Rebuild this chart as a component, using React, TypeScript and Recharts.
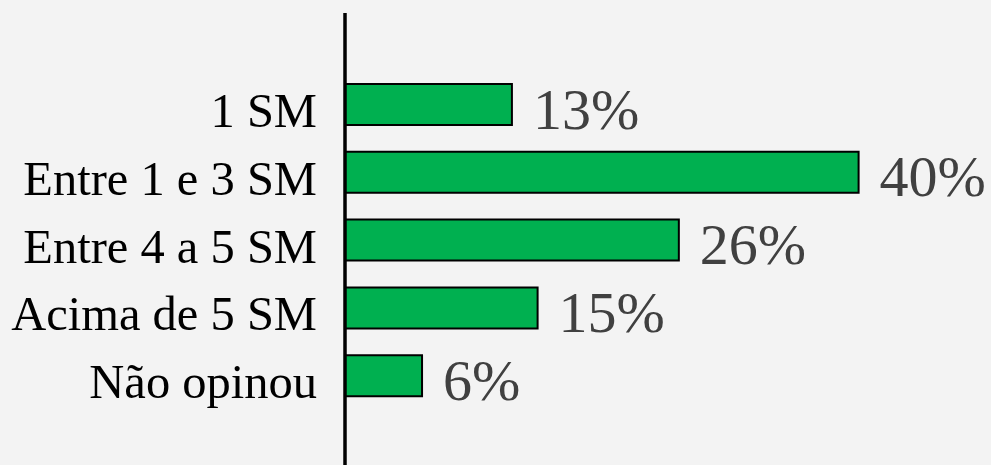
import { BarChart, Bar, XAxis, YAxis, LabelList } from 'recharts';

// Faixa de renda (SM = salário mínimo)
const categories = ['1 SM', 'Entre 1 e 3 SM', 'Entre 4 a 5 SM', 'Acima de 5 SM', 'Não opinou'];
const percents = [13, 40, 26, 15, 6];

const data = categories.map((name, i) => ({ name, value: percents[i] }));

const FONT = '"Liberation Serif", "Times New Roman", serif';

// eslint-disable-next-line @typescript-eslint/no-explicit-any
const CategoryTick = ({ x, y, payload }: any) => (
  <text x={x - 26} y={y + 22} textAnchor="end" fontFamily={FONT} fontSize={48.5} fill="#000000">
    {payload.value}
  </text>
);

// eslint-disable-next-line @typescript-eslint/no-explicit-any
const PercentLabel = ({ x, y, width, height, value }: any) => (
  <text x={x + width + 21} y={y + height / 2 + 24} fontFamily={FONT} fontSize={58} fill="#404040">
    {`${value}%`}
  </text>
);

export default function App() {
  return (
    <div style={{ position: 'absolute', left: 0, top: 0, width: 991, height: 465, background: '#f3f3f3' }}>
      <BarChart
        width={991}
        height={465}
        data={data}
        layout="vertical"
        margin={{ top: 13, right: 4, bottom: 0, left: 0 }}
      >
        <XAxis type="number" domain={[0, 50]} hide />
        <YAxis
          type="category"
          dataKey="name"
          width={345}
          axisLine={{ stroke: '#000000', strokeWidth: 3.5 }}
          tickLine={false}
          tickSize={0}
          tick={<CategoryTick />}
          padding={{ top: 58, bottom: 55 }}
          interval={0}
        />
        <Bar dataKey="value" fill="#00b050" stroke="#000000" strokeWidth={2} barSize={41} isAnimationActive={false}>
          <LabelList dataKey="value" content={<PercentLabel />} />
        </Bar>
      </BarChart>
    </div>
  );
}
